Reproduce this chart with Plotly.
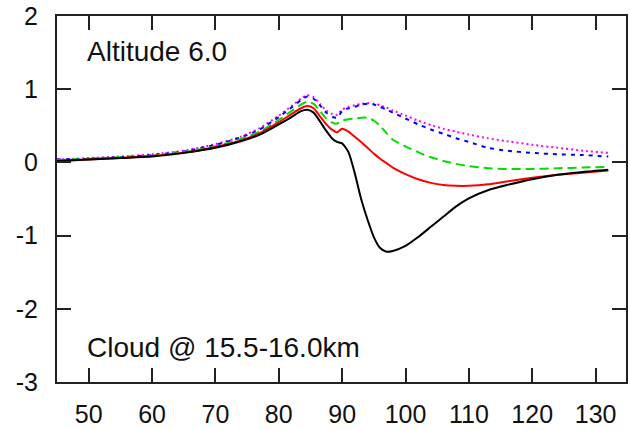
import plotly.graph_objects as go

x_vals = [45, 50, 55, 60, 65, 70, 74, 77, 80, 82, 83.5, 84.5, 85.5, 86.5, 87.5, 88.5, 89.2, 90,
          91, 92, 93, 94, 95, 96, 97, 98, 100, 102, 104, 106, 108, 110, 113, 116, 120, 124, 128, 132]

black_vals = [0.02, 0.04, 0.06, 0.08, 0.13, 0.20, 0.29, 0.38, 0.52, 0.62, 0.70, 0.72, 0.68, 0.56,
              0.43, 0.32, 0.28, 0.26, 0.14, -0.15, -0.50, -0.78, -1.02, -1.17, -1.22, -1.21,
              -1.14, -1.02, -0.88, -0.74, -0.60, -0.49, -0.38, -0.31, -0.23, -0.17, -0.13, -0.10]

red_vals = [0.02, 0.04, 0.06, 0.09, 0.13, 0.21, 0.30, 0.40, 0.55, 0.66, 0.74, 0.77, 0.74, 0.63,
            0.52, 0.44, 0.41, 0.46, 0.42, 0.35, 0.28, 0.20, 0.12, 0.05, -0.01, -0.07,
            -0.16, -0.23, -0.28, -0.31, -0.32, -0.32, -0.30, -0.26, -0.21, -0.17, -0.14, -0.11]

green_vals = [0.03, 0.05, 0.07, 0.09, 0.14, 0.22, 0.32, 0.42, 0.58, 0.70, 0.79, 0.83, 0.80, 0.70,
              0.60, 0.54, 0.53, 0.57, 0.59, 0.60, 0.61, 0.61, 0.57, 0.50, 0.40, 0.31,
              0.22, 0.14, 0.07, 0.02, -0.02, -0.05, -0.08, -0.09, -0.09, -0.08, -0.07, -0.06]

blue_vals = [0.04, 0.05, 0.07, 0.10, 0.15, 0.24, 0.34, 0.45, 0.62, 0.75, 0.85, 0.90, 0.87, 0.78,
             0.68, 0.62, 0.61, 0.70, 0.74, 0.76, 0.79, 0.80, 0.79, 0.76, 0.72, 0.68,
             0.60, 0.52, 0.45, 0.39, 0.33, 0.28, 0.20, 0.16, 0.13, 0.11, 0.10, 0.08]

magenta_vals = [0.04, 0.06, 0.08, 0.11, 0.16, 0.25, 0.35, 0.47, 0.64, 0.77, 0.87, 0.92, 0.89, 0.80,
                0.71, 0.66, 0.65, 0.72, 0.76, 0.78, 0.80, 0.81, 0.80, 0.78, 0.75, 0.71,
                0.64, 0.57, 0.51, 0.46, 0.42, 0.38, 0.33, 0.29, 0.24, 0.20, 0.16, 0.13]

x_ticks = [50, 60, 70, 80, 90, 100, 110, 120, 130]
y_ticks = [-3, -2, -1, 0, 1, 2]
y_tick_labels = ["-3", "-2", "-1", "0", "1", "2"]

series = [
    (black_vals, "#000000", "solid"),
    (red_vals, "#ff0000", "solid"),
    (green_vals, "#00dd00", "9px,5px"),
    (blue_vals, "#0000ff", "4px,5px"),
    (magenta_vals, "#ff00ff", "2px,3px"),
]

fig = go.Figure()
for vals, color, dash in series[::-1]:
    fig.add_trace(go.Scatter(
        x=x_vals, y=vals, mode="lines",
        line=dict(color=color, width=2, dash=dash, shape="spline", smoothing=0.6),
        showlegend=False,
    ))

font = dict(family="Liberation Sans, Arial, sans-serif", size=25, color="#111111")

axis_common = dict(
    showline=True, linecolor="#222222", linewidth=2, mirror="ticks",
    ticks="inside", ticklen=14, tickwidth=2, tickcolor="#222222",
    showgrid=False, zeroline=False, tickfont=font,
)

fig.update_xaxes(range=[45, 134.8], tickvals=x_ticks, ticklabelstandoff=9, **axis_common)
fig.update_yaxes(range=[-3, 2], tickvals=y_ticks, ticktext=y_tick_labels,
                 ticklabelstandoff=12, **axis_common)

ann_font = dict(family="Liberation Sans, Arial, sans-serif", size=28, color="#111111")
fig.add_annotation(x=50, y=1.85, xref="x", yref="y", text="Altitude 6.0",
                   showarrow=False, xanchor="left", yanchor="top", font=ann_font,
                   xshift=-4, yshift=-7)
fig.add_annotation(x=50, y=-2.85, xref="x", yref="y", text="Cloud @ 15.5-16.0km",
                   showarrow=False, xanchor="left", yanchor="bottom", font=ann_font,
                   xshift=-4, yshift=6)

fig.update_layout(
    width=630, height=430,
    margin=dict(l=57, r=2, t=16, b=45),
    paper_bgcolor="white", plot_bgcolor="white",
)

fig.write_html("out.html")
